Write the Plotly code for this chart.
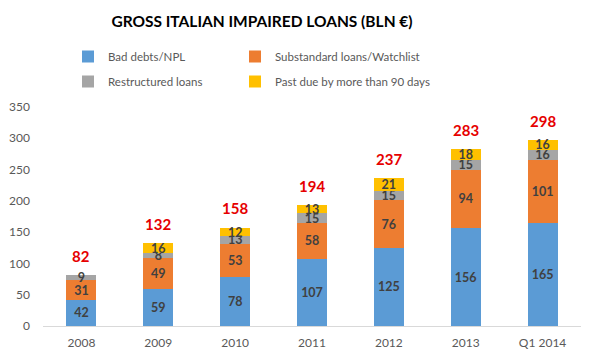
import plotly.graph_objects as go

categories = ["2008", "2009", "2010", "2011", "2012", "2013", "Q1 2014"]
bad_debts = [42, 59, 78, 107, 125, 156, 165]
substandard = [31, 49, 53, 58, 76, 94, 101]
restructured = [9, 8, 13, 15, 15, 15, 16]
past_due = [0, 16, 12, 13, 21, 18, 16]
totals = [82, 132, 158, 194, 237, 283, 298]
y_ticks = [0, 50, 100, 150, 200, 250, 300, 350]

W, H = 595, 361
OFF = 8  # page body margin offset of the figure
FONT = "Lato"
series = [
    ("Bad debts/NPL", bad_debts, "#5B9BD5", "legend", "g1"),
    ("Substandard loans/Watchlist", substandard, "#ED7D31", "legend2", "g2"),
    ("Restructured loans", restructured, "#A5A5A5", "legend", "g3"),
    ("Past due by more than 90 days", past_due, "#FFC000", "legend2", "g4"),
]

fig = go.Figure()
for name, vals, color, lg, grp in series:
    fig.add_trace(go.Bar(
        x=categories, y=vals, name=name, marker_color=color,
        marker_line_width=0, legend=lg, legendgroup=grp,
        text=[str(v) if v else "" for v in vals],
        textposition="inside", insidetextanchor="middle", textangle=0,
        textfont=dict(color="#404040", size=12.5, family=FONT, weight="bold"),
        cliponaxis=False, hoverinfo="skip",
    ))

# category axis: annotate by category index so numeric-looking labels are not misread
for i, t in enumerate(totals):
    fig.add_annotation(x=i, y=t, xref="x", yref="y", text=f"<b>{t}</b>",
                       showarrow=False, yshift=19,
                       font=dict(color="#E60000", size=15, family=FONT))

legend_common = dict(orientation="v", xref="container", yref="container",
                     xanchor="left", yanchor="top", tracegroupgap=6,
                     bgcolor="rgba(0,0,0,0)",
                     font=dict(size=11.5, color="#595959", family=FONT),
                     traceorder="grouped")

fig.update_layout(
    width=W, height=H,
    margin=dict(l=43 - OFF, r=14 + OFF, t=107 - OFF, b=35 + OFF, autoexpand=False),
    paper_bgcolor="white", plot_bgcolor="white",
    barmode="stack", bargap=0.61,
    uniformtext=dict(minsize=12.5, mode="show"),
    title=dict(text="<b>GROSS ITALIAN IMPAIRED LOANS (BLN €)</b>",
               x=(262 - OFF) / W, xanchor="center", xref="container",
               y=1 - (22 - OFF) / H, yanchor="middle", yref="container",
               font=dict(size=15.5, color="#000000", family=FONT)),
    legend=dict(x=(68 - OFF) / W, y=1 - (42 - OFF) / H, **legend_common),
    legend2=dict(x=(235 - OFF) / W, y=1 - (42 - OFF) / H, **legend_common),
    xaxis=dict(type="category", categoryorder="array", categoryarray=categories,
               range=[-0.5, len(categories) - 0.5],
               showgrid=False, showline=True, linecolor="#D9D9D9",
               linewidth=1, ticks="", ticklabelstandoff=6,
               tickfont=dict(size=12, color="#595959", family=FONT)),
    yaxis=dict(range=[0, 350], tickvals=y_ticks, showgrid=False, zeroline=False,
               showline=False, ticks="", ticklabelstandoff=12,
               tickfont=dict(size=12, color="#595959", family=FONT)),
    font=dict(family=FONT),
)

fig.write_html("out.html")
